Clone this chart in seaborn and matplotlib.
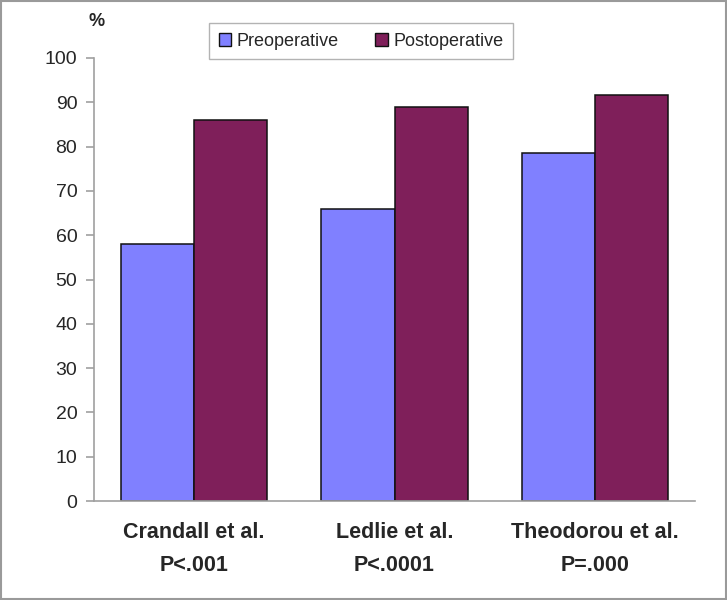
import matplotlib
matplotlib.use("Agg")
import matplotlib.pyplot as plt
import seaborn as sns
import pandas as pd
from matplotlib.patches import Rectangle, Patch

studies = ["Crandall et al.\nP<.001", "Ledlie et al.\nP<.0001", "Theodorou et al.\nP=.000"]
preoperative = [58, 66, 78.6]
postoperative = [86, 89, 91.6]
series = ["Preoperative", "Postoperative"]
colors = ["#8080FF", "#7F1F5A"]
yticks = list(range(0, 101, 10))

df = pd.DataFrame({
    "study": studies * 2,
    "value": preoperative + postoperative,
    "series": [series[0]] * 3 + [series[1]] * 3,
})

sns.set_theme(style="white")
plt.rcParams["font.family"] = ["Liberation Sans", "DejaVu Sans"]

fig = plt.figure(figsize=(7.27, 6.0), dpi=100)
ax = fig.add_axes([94 / 727, 1 - 501 / 600, (695 - 94) / 727, (501 - 58) / 600])

sns.barplot(data=df, x="study", y="value", hue="series", palette=colors,
            width=0.73, gap=0, edgecolor="#111111", linewidth=1.1,
            saturation=1, ax=ax, legend=False)

ax.set_ylim(0, 100)
ax.set_yticks(yticks)
ax.set_xlim(-0.5, 2.5)
ax.set_xlabel("")
ax.set_ylabel("")
for s in ["top", "right"]:
    ax.spines[s].set_visible(False)
for s in ["left", "bottom"]:
    ax.spines[s].set_color("#A0A0A0")
    ax.spines[s].set_linewidth(1.2)
ax.tick_params(axis="y", which="major", direction="out", length=6, width=1.2,
               color="#A0A0A0", labelsize=14, pad=6, left=True)
ax.tick_params(axis="x", length=0, pad=15, labelsize=15.5)
for lbl in ax.get_xticklabels():
    lbl.set_fontweight("bold")
    lbl.set_linespacing(1.75)

fig.text(97 / 727, 1 - 22 / 600, "%", fontsize=13, fontweight="bold",
         ha="center", va="center")

handles = [Patch(facecolor=c, edgecolor="#111111", linewidth=1.0) for c in colors]
leg = fig.legend(handles, series, ncol=2, loc="center",
                 bbox_to_anchor=(361 / 727, 1 - 41 / 600), frameon=True,
                 fancybox=False, fontsize=13, handlelength=0.7, handleheight=0.7,
                 handletextpad=0.3, columnspacing=2.0, borderpad=0.55)
leg.get_frame().set_edgecolor("#A0A0A0")
leg.get_frame().set_linewidth(1.0)

fig.patches.append(Rectangle((0.001, 0.002), 0.997, 0.996, transform=fig.transFigure,
                             fill=False, edgecolor="#9A9A9A", linewidth=1.5))

fig.savefig("out.png", dpi=100)
